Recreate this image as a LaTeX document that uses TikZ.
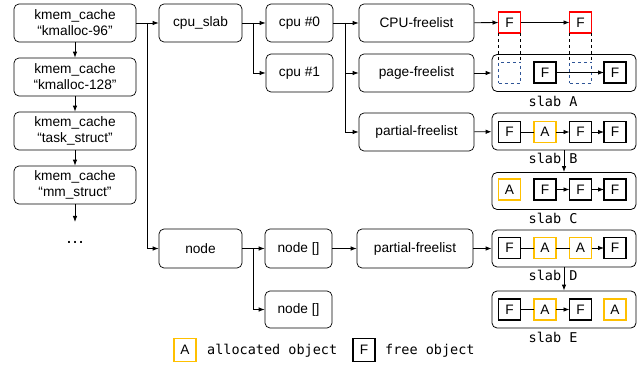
\documentclass[tikz,border=0pt]{standalone}
\usepackage{fontspec}
\setmainfont{Liberation Sans}
\setmonofont{DejaVu Sans Mono}
\usetikzlibrary{arrows.meta}
\definecolor{allocyellow}{RGB}{255,192,0}
\definecolor{pageblue}{RGB}{47,85,151}

\tikzset{
  box/.style={draw, rounded corners=5pt, line width=0.7pt, align=center, inner sep=0pt},
  slabbox/.style={draw, rounded corners=5pt, line width=0.8pt, minimum width=144pt, minimum height=37pt, inner sep=0pt},
  fobj/.style={draw, line width=1.9pt, minimum width=22pt, minimum height=21pt, inner sep=0pt, outer sep=0pt},
  aobj/.style={fobj, draw=allocyellow, line width=1.7pt},
  robj/.style={fobj, draw=red, line width=1.8pt},
  bobj/.style={fobj, draw=pageblue, dashed, line width=0.7pt},
  arr/.style={-{Latex[length=6pt,width=4.5pt]}, line width=0.8pt},
  lnk/.style={line width=0.8pt},
  slabname/.style={font=\ttfamily\fontsize{13.5}{16}\selectfont, inner sep=0pt}
}

\begin{document}
\begin{tikzpicture}[x=1pt, y=-1pt, font=\fontsize{13.7}{16}\selectfont]
  \useasboundingbox (0,0) rectangle (640,366);

  % kmem_cache chain
  \node[box, minimum width=122pt, minimum height=38pt] (k1) at (75,23) {kmem\_cache\\“kmalloc-96”};
  \node[box, minimum width=122pt, minimum height=38pt] (k2) at (75,77) {kmem\_cache\\“kmalloc-128”};
  \node[box, minimum width=122pt, minimum height=38pt] (k3) at (75,131) {kmem\_cache\\“task\_struct”};
  \node[box, minimum width=122pt, minimum height=38pt] (k4) at (75,185) {kmem\_cache\\“mm\_struct”};
  \coordinate (kend) at (75,222);
  \node[inner sep=0pt, font=\fontsize{19}{20}\selectfont] (dots) at (75,242) {\dots};
  \draw[arr] (k1) -- (k2);
  \draw[arr] (k2) -- (k3);
  \draw[arr] (k3) -- (k4);
  \draw[arr] (k4) -- (kend);

  % per-cpu side
  \node[box, minimum width=83pt, minimum height=38pt] (cpuslab) at (200.5,23) {cpu\_slab};
  \node[box, minimum width=67pt, minimum height=38pt] (cpu0) at (299.5,23) {cpu \#0};
  \node[box, minimum width=67pt, minimum height=38pt] (cpu1) at (299.5,73) {cpu \#1};
  \node[box, minimum width=115pt, minimum height=38pt] (cpufl) at (416.5,23) {CPU-freelist};
  \node[box, minimum width=115pt, minimum height=38pt] (pagefl) at (416.5,73) {page-freelist};
  \node[box, minimum width=115pt, minimum height=38pt] (partfl) at (416.5,132) {partial-freelist};

  % node side
  \node[box, minimum width=83pt, minimum height=39pt] (nd) at (200.5,248.5) {node};
  \node[box, minimum width=67pt, minimum height=39pt] (nd0) at (298.5,248.5) {node []};
  \node[box, minimum width=67pt, minimum height=37pt] (nd1) at (298.5,309.5) {node []};
  \node[box, minimum width=116pt, minimum height=39pt] (nodefl) at (415,248.5) {partial-freelist};

  \coordinate (br1) at (147,23);
  \coordinate (br2) at (253,23);
  \coordinate (br3) at (345,23);
  \coordinate (br4) at (253,248.5);
  \draw[arr] (k1) -- (cpuslab);
  \draw[arr] (br1) |- (nd);
  \draw[arr] (cpuslab) -- (cpu0);
  \draw[arr] (br2) |- (cpu1);
  \draw[arr] (cpu0) -- (cpufl);
  \draw[arr] (br3) |- (pagefl);
  \draw[arr] (br3) |- (partfl);
  \draw[arr] (nd) -- (nd0);
  \draw[arr] (br4) |- (nd1);
  \draw[arr] (nd0) -- (nodefl);

  % slabs
  \node[slabbox] (slabA) at (564,73) {};
  \node[slabbox] (slabB) at (564,131.5) {};
  \node[slabbox] (slabC) at (564,191) {};
  \node[slabbox] (slabD) at (564,248.5) {};
  \node[slabbox] (slabE) at (564,309.5) {};
  \node[slabname] (nameA) at (553,101) {slab A};
  \node[slabname] (nameB) at (553,158) {slab B};
  \node[slabname] (nameC) at (553,218) {slab C};
  \node[slabname] (nameD) at (553,275) {slab D};
  \node[slabname] (nameE) at (553,337) {slab E};
  \draw[arr] (pagefl) -- (slabA);
  \draw[arr] (partfl) -- (slabB);
  \draw[arr] (nodefl) -- (slabD);
  \draw[arr] (slabB) -- (slabC);
  \draw[arr] (slabD) -- (slabE);

  % cpu freelist
  \node[robj] (r1) at (509.5,22.5) {F};
  \node[robj] (r2) at (580.5,22.5) {F};
  \draw[arr] (cpufl) -- (r1);
  \draw[arr] (r1) -- (r2);

  % slab A
  \node[bobj] (a1) at (509.5,72.5) {};
  \node[fobj] (a2) at (545,72.5) {F};
  \node[bobj] (a3) at (580.5,72.5) {};
  \node[fobj] (a4) at (615,72.5) {F};
  \draw[lnk, dashed] (r1.south west) -- (a1.north west);
  \draw[lnk, dashed] (r1.south east) -- (a1.north east);
  \draw[lnk, dashed] (r2.south west) -- (a3.north west);
  \draw[lnk, dashed] (r2.south east) -- (a3.north east);
  \draw[arr] (a2) -- (a4);

  % slab B
  \node[fobj] (b1) at (509.5,132) {F};
  \node[aobj] (b2) at (545,132) {A};
  \node[fobj] (b3) at (580.5,132) {F};
  \node[fobj] (b4) at (615,132) {F};
  \draw[lnk] (b1) -- (b2);
  \draw[arr] (b2) -- (b3);
  \draw[arr] (b3) -- (b4);

  % slab C
  \node[aobj] (c1) at (509.5,189.5) {A};
  \node[fobj] (c2) at (545,189.5) {F};
  \node[fobj] (c3) at (580.5,189.5) {F};
  \node[fobj] (c4) at (615,189.5) {F};
  \draw[arr] (c2) -- (c3);
  \draw[arr] (c3) -- (c4);

  % slab D
  \node[fobj] (d1) at (509.5,248) {F};
  \node[aobj] (d2) at (545,248) {A};
  \node[aobj] (d3) at (580.5,248) {A};
  \node[fobj] (d4) at (615,248) {F};
  \draw[lnk] (d1) -- (d2);
  \draw[lnk] (d2) -- (d3);
  \draw[arr] (d3) -- (d4);

  % slab E
  \node[fobj] (e1) at (509.5,309.5) {F};
  \node[aobj] (e2) at (545,309.5) {A};
  \node[fobj] (e3) at (580.5,309.5) {F};
  \node[aobj] (e4) at (615,309.5) {A};
  \draw[lnk] (e1) -- (e2);
  \draw[arr] (e2) -- (e3);

  % legend
  \node[aobj, minimum height=23pt] (legA) at (185,350) {A};
  \node[slabname, anchor=west] (legAtxt) at (207,351) {allocated object};
  \node[fobj, minimum height=23pt] (legF) at (364,350) {F};
  \node[slabname, anchor=west] (legFtxt) at (385,351) {free object};
\end{tikzpicture}
\end{document}
